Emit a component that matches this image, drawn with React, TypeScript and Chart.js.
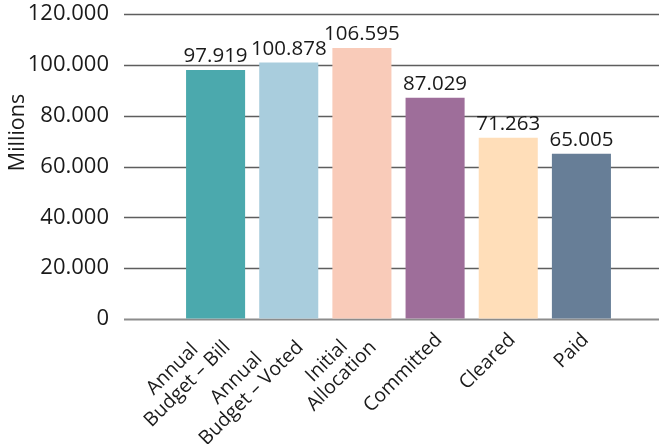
import React, { useEffect, useRef } from "react";
import { Chart, registerables } from "chart.js";

Chart.register(...registerables);

// Budget execution stages (values in millions)
const categories: string[][] = [
  ["Annual", "Budget – Bill"],
  ["Annual", "Budget – Voted"],
  ["Initial", "Allocation"],
  ["Committed"],
  ["Cleared"],
  ["Paid"],
];
const values: number[] = [97919, 100878, 106595, 87029, 71263, 65005];
const barColors: string[] = ["#4BA9AD", "#A9CDDD", "#F9CBB9", "#9E6E9A", "#FFDEB9", "#677E97"];
const yTicks: number[] = [0, 20000, 40000, 60000, 80000, 100000, 120000];
const axisTitle = "Millions";

const FONT = '"Open Sans", "Noto Sans", sans-serif';
const TEXT = "#1a1a1a";

const fmt = (v: number) => String(v).replace(/\B(?=(\d{3})+(?!\d))/g, ".");

// Horizontal rules spanning from the tick labels to the right edge
const gridPlugin = {
  id: "wideGrid",
  beforeDatasetsDraw(chart: any) {
    const { ctx, scales } = chart;
    const y = scales.y;
    ctx.save();
    y.ticks.forEach((t: any) => {
      const py = Math.round(y.getPixelForValue(t.value)) + 0.5;
      ctx.beginPath();
      ctx.strokeStyle = t.value === 0 ? "#8c8c8c" : "#5e5e5e";
      ctx.lineWidth = t.value === 0 ? 2 : 1.4;
      ctx.moveTo(124, py);
      ctx.lineTo(chart.width, py);
      ctx.stroke();
    });
    ctx.restore();
  },
};

// Value labels above bars, rotated category labels and the axis title
const textPlugin = {
  id: "texts",
  afterDatasetsDraw(chart: any) {
    const { ctx, chartArea } = chart;
    const meta = chart.getDatasetMeta(0);
    ctx.save();
    ctx.fillStyle = TEXT;
    ctx.font = `20.5px ${FONT}`;
    ctx.textAlign = "center";
    ctx.textBaseline = "alphabetic";
    meta.data.forEach((bar: any, i: number) => {
      ctx.fillText(fmt(values[i]), bar.x, bar.y - 8);
    });

    const x = chart.scales.x;
    ctx.font = `19.5px ${FONT}`;
    ctx.textBaseline = "middle";
    const lineH = 21;
    categories.forEach((lines, i) => {
      const px = x.getPixelForValue(i) + 4;
      const py = chartArea.bottom + 18;
      const maxW = Math.max(...lines.map((l) => ctx.measureText(l).width));
      ctx.save();
      ctx.translate(px, py);
      ctx.rotate(-Math.PI / 4);
      lines.forEach((l, j) => {
        const off = (j - (lines.length - 1) / 2) * lineH;
        ctx.fillText(l, -maxW / 2, off);
      });
      ctx.restore();
    });

    ctx.font = `21.5px ${FONT}`;
    ctx.textBaseline = "alphabetic";
    ctx.save();
    ctx.translate(23.5, 132.5);
    ctx.rotate(-Math.PI / 2);
    ctx.fillText(axisTitle, 0, 0);
    ctx.restore();
    ctx.restore();
  },
};

export default function App() {
  const ref = useRef<HTMLCanvasElement>(null);

  useEffect(() => {
    if (!ref.current) return;
    const chart = new Chart(ref.current, {
      type: "bar",
      data: {
        labels: categories.map((c) => c.join(" ")),
        datasets: [
          {
            data: values,
            backgroundColor: barColors,
            borderWidth: 0,
            categoryPercentage: 1,
            barPercentage: 0.807,
          },
        ],
      },
      options: {
        animation: false,
        responsive: true,
        maintainAspectRatio: false,
        layout: { padding: { top: 14, bottom: 125, right: 41, left: 0 } },
        plugins: { legend: { display: false }, tooltip: { enabled: false } },
        scales: {
          x: { display: false, offset: true },
          y: {
            min: 0,
            max: 120000,
            afterFit: (scale: any) => {
              scale.width = 179;
            },
            afterBuildTicks: (scale: any) => {
              scale.ticks = yTicks.map((v) => ({ value: v }));
            },
            grid: {
              display: true,
              color: "rgba(0,0,0,0)",
              drawOnChartArea: false,
              drawTicks: true,
              tickLength: 70,
            },
            border: { display: false },
            ticks: {
              padding: 0,
              color: TEXT,
              font: { family: FONT, size: 22 },
              callback: (v: any) => fmt(Number(v)),
            },
          },
        },
      },
      plugins: [gridPlugin, textPlugin],
    });
    return () => chart.destroy();
  }, []);

  return (
    <div style={{ position: "absolute", left: 0, top: 0, width: 659, height: 444 }}>
      <canvas ref={ref} />
    </div>
  );
}
